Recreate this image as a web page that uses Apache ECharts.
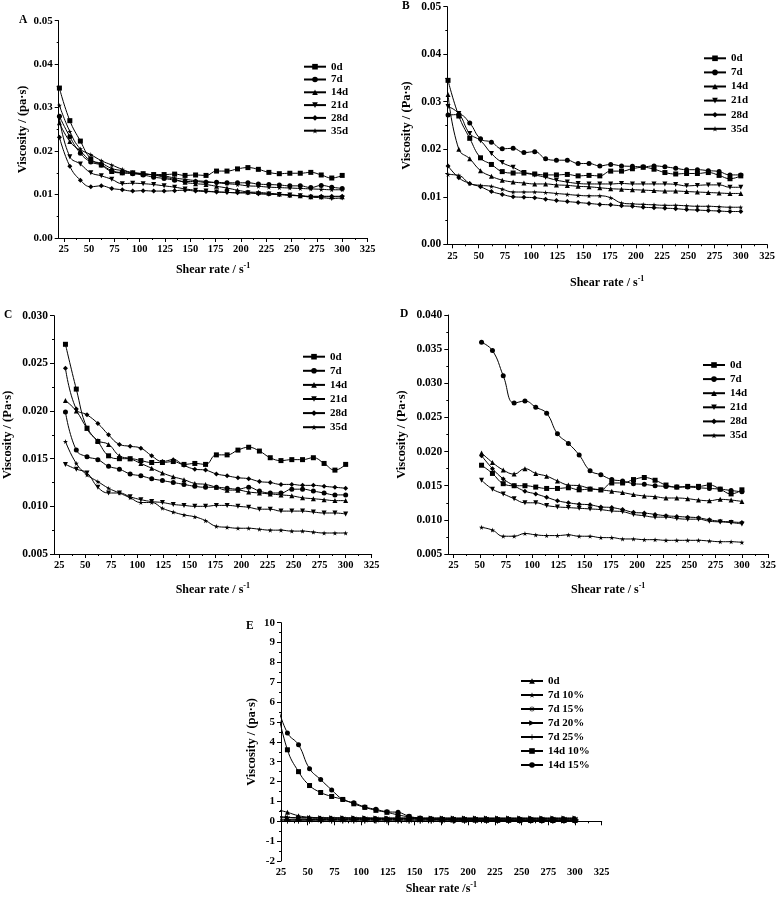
<!DOCTYPE html>
<html><head><meta charset="utf-8">
<script src="https://cdn.jsdelivr.net/npm/echarts@6/dist/echarts.min.js"></script>
<style>html,body{margin:0;padding:0;background:#fff}#c{width:779px;height:903px}</style>
</head><body><div id="c"></div><script>
// ---------------- data ----------------
const shearRate = [20.7, 31.0, 41.4, 51.7, 62.1, 72.4, 82.8, 93.1, 103.4, 113.8, 124.1, 134.5, 144.8, 155.2, 165.5, 175.9, 186.2, 196.6, 206.9, 217.2, 227.6, 237.9, 248.3, 258.6, 269.0, 279.3, 289.7, 300.0];
const xTickLabels = [25, 50, 75, 100, 125, 150, 175, 200, 225, 250, 275, 300, 325];
const xMinorTicks = [37.5, 62.5, 87.5, 112.5, 137.5, 162.5, 187.5, 212.5, 237.5, 262.5, 287.5, 312.5];
const namesAD = ['0d', '7d', '14d', '21d', '28d', '35d'];
const namesE = ['0d ', '7d 10%', '7d 15%', '7d 20%', '7d 25%', '14d 10%', '14d 15%'];

const control0d = [0.0345, 0.0270, 0.0223, 0.0182, 0.0168, 0.0153, 0.0150, 0.0150, 0.0148, 0.0146, 0.0146, 0.0147, 0.0144, 0.0145, 0.0144, 0.0154, 0.0154, 0.0159, 0.0162, 0.0158, 0.0151, 0.0148, 0.0149, 0.0149, 0.0151, 0.0145, 0.0138, 0.0144];

const A7d  = [0.0280, 0.0233, 0.0195, 0.0175, 0.0168, 0.0155, 0.0150, 0.0148, 0.0145, 0.0140, 0.0137, 0.0133, 0.0130, 0.0130, 0.0128, 0.0128, 0.0127, 0.0127, 0.0127, 0.0124, 0.0123, 0.0122, 0.0120, 0.0120, 0.0116, 0.0121, 0.0117, 0.0114];
const A14d = [0.0265, 0.0222, 0.0200, 0.0178, 0.0172, 0.0160, 0.0155, 0.0150, 0.0147, 0.0145, 0.0140, 0.0135, 0.0128, 0.0125, 0.0123, 0.0119, 0.0115, 0.0110, 0.0106, 0.0105, 0.0103, 0.0101, 0.0099, 0.0097, 0.0095, 0.0095, 0.0095, 0.0095];
const A21d = [0.0275, 0.0187, 0.0170, 0.0150, 0.0143, 0.0135, 0.0125, 0.0126, 0.0125, 0.0123, 0.0120, 0.0117, 0.0113, 0.0110, 0.0108, 0.0106, 0.0105, 0.0104, 0.0104, 0.0102, 0.0101, 0.0100, 0.0099, 0.0097, 0.0094, 0.0093, 0.0091, 0.0092];
const A28d = [0.0232, 0.0165, 0.0133, 0.0118, 0.0120, 0.0114, 0.0111, 0.0108, 0.0109, 0.0108, 0.0108, 0.0109, 0.0110, 0.0108, 0.0107, 0.0106, 0.0105, 0.0104, 0.0104, 0.0102, 0.0101, 0.0100, 0.0098, 0.0097, 0.0096, 0.0096, 0.0096, 0.0096];
const A35d = [0.0305, 0.0245, 0.0205, 0.0192, 0.0178, 0.0168, 0.0158, 0.0150, 0.0148, 0.0145, 0.0143, 0.0138, 0.0135, 0.0132, 0.0130, 0.0127, 0.0125, 0.0123, 0.0120, 0.0119, 0.0117, 0.0116, 0.0115, 0.0114, 0.0113, 0.0112, 0.0111, 0.0111];

const B7d  = [0.0272, 0.0273, 0.0255, 0.0222, 0.0215, 0.0201, 0.0202, 0.0193, 0.0195, 0.0180, 0.0177, 0.0177, 0.0170, 0.0170, 0.0165, 0.0168, 0.0165, 0.0164, 0.0163, 0.0165, 0.0163, 0.0160, 0.0157, 0.0157, 0.0155, 0.0153, 0.0146, 0.0146];
const B14d = [0.0315, 0.0200, 0.0180, 0.0155, 0.0143, 0.0135, 0.0131, 0.0129, 0.0127, 0.0127, 0.0125, 0.0124, 0.0122, 0.0121, 0.0119, 0.0117, 0.0116, 0.0115, 0.0114, 0.0113, 0.0112, 0.0112, 0.0111, 0.0110, 0.0109, 0.0108, 0.0107, 0.0107];
const B21d = [0.0290, 0.0275, 0.0233, 0.0218, 0.0191, 0.0172, 0.0162, 0.0151, 0.0146, 0.0141, 0.0135, 0.0131, 0.0128, 0.0127, 0.0127, 0.0127, 0.0128, 0.0127, 0.0127, 0.0127, 0.0127, 0.0126, 0.0123, 0.0124, 0.0125, 0.0125, 0.0120, 0.0120];
const B28d = [0.0165, 0.0140, 0.0128, 0.0121, 0.0111, 0.0105, 0.0100, 0.0099, 0.0098, 0.0095, 0.0092, 0.0090, 0.0088, 0.0086, 0.0084, 0.0083, 0.0081, 0.0080, 0.0078, 0.0077, 0.0076, 0.0075, 0.0073, 0.0072, 0.0071, 0.0070, 0.0069, 0.0069];
const B35d = [0.0147, 0.0145, 0.0128, 0.0124, 0.0122, 0.0116, 0.0110, 0.0110, 0.0110, 0.0109, 0.0107, 0.0105, 0.0103, 0.0102, 0.0102, 0.0098, 0.0087, 0.0085, 0.0084, 0.0083, 0.0082, 0.0082, 0.0081, 0.0080, 0.0080, 0.0079, 0.0078, 0.0078];

const C0d  = [null, 0.0270, 0.0223, 0.0182, 0.0168, 0.0153, 0.0150, 0.0150, 0.0148, 0.0146, 0.0146, 0.0147, 0.0144, 0.0145, 0.0144, 0.0154, 0.0154, 0.0159, 0.0162, 0.0158, 0.0151, 0.0148, 0.0149, 0.0149, 0.0151, 0.0145, 0.0138, 0.0144];
const C7d  = [null, 0.0199, 0.0159, 0.0152, 0.0149, 0.0142, 0.0139, 0.0134, 0.0132, 0.0129, 0.0127, 0.0125, 0.0123, 0.0121, 0.0120, 0.0120, 0.0119, 0.0118, 0.0120, 0.0116, 0.0114, 0.0114, 0.0118, 0.0118, 0.0116, 0.0114, 0.0112, 0.0112];
const C14d = [null, 0.0211, 0.0200, 0.0182, 0.0169, 0.0165, 0.0153, 0.0150, 0.0145, 0.0140, 0.0135, 0.0131, 0.0128, 0.0124, 0.0123, 0.0120, 0.0117, 0.0117, 0.0115, 0.0114, 0.0113, 0.0112, 0.0111, 0.0109, 0.0108, 0.0107, 0.0106, 0.0106];
const C21d = [null, 0.0144, 0.0139, 0.0135, 0.0120, 0.0114, 0.0114, 0.0110, 0.0107, 0.0105, 0.0104, 0.0102, 0.0101, 0.0100, 0.0100, 0.0101, 0.0101, 0.0100, 0.0099, 0.0097, 0.0097, 0.0095, 0.0095, 0.0095, 0.0094, 0.0093, 0.0093, 0.0092];
const C28d = [null, 0.0245, 0.0202, 0.0196, 0.0187, 0.0175, 0.0165, 0.0163, 0.0161, 0.0153, 0.0147, 0.0149, 0.0143, 0.0139, 0.0138, 0.0134, 0.0132, 0.0130, 0.0129, 0.0126, 0.0125, 0.0123, 0.0123, 0.0122, 0.0122, 0.0121, 0.0120, 0.0119];
const C35d = [null, 0.0168, 0.0145, 0.0133, 0.0126, 0.0119, 0.0114, 0.0109, 0.0104, 0.0104, 0.0098, 0.0094, 0.0091, 0.0089, 0.0085, 0.0079, 0.0078, 0.0077, 0.0077, 0.0076, 0.0075, 0.0075, 0.0074, 0.0074, 0.0073, 0.0072, 0.0072, 0.0072];

const D0d  = [null, null, null, 0.0180, 0.0168, 0.0153, 0.0150, 0.0150, 0.0148, 0.0146, 0.0146, 0.0147, 0.0144, 0.0145, 0.0144, 0.0154, 0.0154, 0.0159, 0.0162, 0.0158, 0.0151, 0.0148, 0.0149, 0.0149, 0.0151, 0.0145, 0.0138, 0.0144];
const D7d  = [null, null, null, 0.0360, 0.0348, 0.0311, 0.0271, 0.0274, 0.0265, 0.0256, 0.0226, 0.0212, 0.0195, 0.0172, 0.0166, 0.0159, 0.0157, 0.0153, 0.0152, 0.0150, 0.0149, 0.0148, 0.0148, 0.0147, 0.0146, 0.0145, 0.0143, 0.0141];
const D14d = [null, null, null, 0.0198, 0.0184, 0.0173, 0.0167, 0.0175, 0.0168, 0.0164, 0.0157, 0.0151, 0.0150, 0.0146, 0.0144, 0.0142, 0.0140, 0.0137, 0.0135, 0.0134, 0.0132, 0.0132, 0.0131, 0.0129, 0.0128, 0.0130, 0.0129, 0.0127];
const D21d = [null, null, null, 0.0158, 0.0145, 0.0138, 0.0131, 0.0125, 0.0125, 0.0121, 0.0119, 0.0118, 0.0117, 0.0116, 0.0115, 0.0113, 0.0112, 0.0108, 0.0106, 0.0104, 0.0104, 0.0102, 0.0101, 0.0101, 0.0098, 0.0097, 0.0096, 0.0094];
const D28d = [null, null, null, 0.0194, 0.0175, 0.0160, 0.0150, 0.0142, 0.0138, 0.0133, 0.0128, 0.0125, 0.0123, 0.0122, 0.0119, 0.0118, 0.0115, 0.0111, 0.0110, 0.0108, 0.0106, 0.0105, 0.0104, 0.0103, 0.0100, 0.0098, 0.0097, 0.0096];
const D35d = [null, null, null, 0.0089, 0.0085, 0.0076, 0.0076, 0.0080, 0.0078, 0.0077, 0.0077, 0.0078, 0.0076, 0.0076, 0.0074, 0.0074, 0.0072, 0.0072, 0.0071, 0.0071, 0.0070, 0.0070, 0.0070, 0.0070, 0.0069, 0.0068, 0.0068, 0.0067];

const E0d    = [0.60, 0.45, 0.28, 0.20, 0.17, 0.16, 0.16, 0.15, 0.15, 0.15, 0.15, 0.15, 0.15, 0.15, 0.15, 0.15, 0.14, 0.14, 0.14, 0.14, 0.14, 0.14, 0.14, 0.14, 0.14, 0.14, 0.14, 0.14];
const E7d10  = [0.25, 0.20, 0.17, 0.16, 0.15, 0.15, 0.15, 0.15, 0.14, 0.14, 0.14, 0.14, 0.14, 0.13, 0.13, 0.13, 0.13, 0.13, 0.13, 0.13, 0.12, 0.12, 0.12, 0.12, 0.12, 0.12, 0.12, 0.12];
const E7d15  = [0.12, 0.10, 0.10, 0.09, 0.09, 0.09, 0.09, 0.09, 0.09, 0.09, 0.09, 0.09, 0.08, 0.08, 0.08, 0.08, 0.08, 0.08, 0.08, 0.08, 0.08, 0.08, 0.08, 0.08, 0.08, 0.08, 0.08, 0.08];
const E7d20  = [0.22, 0.19, 0.18, 0.18, 0.18, 0.18, 0.18, 0.18, 0.18, 0.17, 0.17, 0.17, 0.17, 0.17, 0.17, 0.17, 0.17, 0.17, 0.17, 0.17, 0.17, 0.17, 0.17, 0.17, 0.17, 0.17, 0.17, 0.17];
const E7d25  = [0.06, 0.05, 0.05, 0.05, 0.05, 0.05, 0.05, 0.05, 0.05, 0.05, 0.05, 0.05, 0.05, 0.05, 0.05, 0.05, 0.05, 0.05, 0.05, 0.05, 0.05, 0.05, 0.05, 0.05, 0.05, 0.05, 0.05, 0.05];
const E14d10 = [5.90, 3.60, 2.50, 1.80, 1.45, 1.25, 1.10, 0.88, 0.70, 0.55, 0.45, 0.32, 0.22, 0.14, 0.10, 0.08, 0.07, 0.06, 0.06, 0.05, 0.05, 0.05, 0.04, 0.04, 0.04, 0.04, 0.04, 0.04];
const E14d15 = [6.00, 4.45, 3.85, 2.65, 2.10, 1.58, 1.10, 0.93, 0.72, 0.60, 0.48, 0.45, 0.25, 0.16, 0.12, 0.10, 0.08, 0.07, 0.06, 0.06, 0.05, 0.05, 0.05, 0.05, 0.05, 0.05, 0.05, 0.05];

// ---------------- styling ----------------
const FONT = 'Liberation Serif';
const STAR = 'path://M50,0L61,35L98,35L68,57L79,91L50,70L21,91L32,57L2,35L39,35Z';
const ASTER = 'path://M4.4,0L5.6,0L5.6,10L4.4,10Z M0,4.4L10,4.4L10,5.6L0,5.6Z M0.8,1.6L1.6,0.8L9.2,8.4L8.4,9.2Z M8.4,0.8L9.2,1.6L1.6,9.2L0.8,8.4Z';
const PLUS = 'path://M4.4,0L5.6,0L5.6,10L4.4,10Z M0,4.4L10,4.4L10,5.6L0,5.6Z';
const RTRI = 'path://M0,0L10,5L0,10Z';
const symAD = [['rect', 0], ['circle', 0], ['triangle', 0], ['triangle', 180], ['diamond', 0], [STAR, 0]];
const symE = [['triangle', 0], [STAR, 0], [ASTER, 0], [RTRI, 0], [PLUS, 0], ['rect', 0], ['circle', 0]];

const grids = [
  {left: 58.7, top: 20.7, width: 308.8, height: 217.3},
  {left: 447.3, top: 6.7, width: 319.7, height: 237.6},
  {left: 50, top: 315.7, width: 321.7, height: 238.3},
  {left: 448.3, top: 315, width: 321.2, height: 239},
  {left: 281, top: 622.7, width: 320.7, height: 238.3}
];

const labelStyle = (fs) => ({fontFamily: FONT, fontWeight: 'bold', fontSize: fs, color: '#000'});
const axisLineStyle = {show: true, lineStyle: {color: '#000', width: 1}};

const xAxes = [], yAxes = [];
const xName = (txt) => txt + '{sup|-1}';
const xNameStyle = {fontFamily: FONT, fontWeight: 'bold', fontSize: 12, color: '#000', lineHeight: 16,
  rich: {sup: {fontFamily: FONT, fontWeight: 'bold', fontSize: 8, verticalAlign: 'top', lineHeight: 16, color: '#000'}}};
const xNameGaps = [24, 31, 28, 28];

for (let g = 0; g < 4; g++) {
  xAxes.push({gridIndex: g, type: 'value', min: 20, max: 325, position: 'bottom',
    axisLine: axisLineStyle, splitLine: {show: false},
    axisTick: {show: true, customValues: xTickLabels, length: 4, lineStyle: {color: '#000'}},
    axisLabel: {customValues: xTickLabels, margin: 6, ...labelStyle(10.5)},
    name: xName('Shear rate / s'), nameLocation: 'middle', nameGap: xNameGaps[g], nameTextStyle: xNameStyle});
  xAxes.push({gridIndex: g, type: 'value', min: 20, max: 325, position: 'bottom',
    axisLine: {show: false}, splitLine: {show: false},
    axisTick: {show: true, customValues: xMinorTicks, length: 2, lineStyle: {color: '#000'}},
    axisLabel: {show: false}});
}
xAxes.push({gridIndex: 4, type: 'value', min: 25, max: 325, interval: 25, position: 'bottom',
  axisLine: axisLineStyle, splitLine: {show: false},
  axisTick: {show: true, length: 4, lineStyle: {color: '#000'}},
  minorTick: {show: true, splitNumber: 2, length: 2, lineStyle: {color: '#000'}},
  axisLabel: {margin: 6, ...labelStyle(10.5)},
  name: xName('Shear rate /s'), nameLocation: 'middle', nameGap: 20, nameTextStyle: xNameStyle});

const yDefs = [
  {min: 0, max: 0.05, interval: 0.01, dec: 2, name: 'Viscosity / (pa·s)', fs: 11, gap: 28},
  {min: 0, max: 0.05, interval: 0.01, dec: 2, name: 'Viscosity / (Pa·s)', fs: 11.5, gap: 34},
  {min: 0.005, max: 0.03, interval: 0.005, dec: 3, name: 'Viscosity / (Pa·s)', fs: 11.5, gap: 40},
  {min: 0.005, max: 0.04, interval: 0.005, dec: 3, name: 'Viscosity / (Pa·s)', fs: 11.5, gap: 40},
  {min: -2, max: 10, interval: 1, dec: 0, name: 'Viscosity / (pa·s)', fs: 11, gap: 23}
];
yDefs.forEach((d, g) => {
  yAxes.push({gridIndex: g, type: 'value', min: d.min, max: d.max, interval: d.interval,
    axisLine: axisLineStyle, splitLine: {show: false},
    axisTick: {show: true, length: 4, lineStyle: {color: '#000'}},
    minorTick: {show: true, splitNumber: 2, length: 2, lineStyle: {color: '#000'}},
    axisLabel: {margin: 6, formatter: v => v.toFixed(d.dec), ...labelStyle(d.fs)},
    name: d.name, nameLocation: 'middle', nameRotate: 90, nameGap: d.gap,
    nameTextStyle: {fontFamily: FONT, fontWeight: 'bold', fontSize: 12.5, color: '#000'}});
});

const series = [];
function addSeries(grid, xIdx, name, vals, sym) {
  const data = [];
  shearRate.forEach((x, i) => { if (vals[i] != null) data.push([x, vals[i]]); });
  const thin = (sym[0] === ASTER || sym[0] === PLUS);
  series.push({type: 'line', name, xAxisIndex: xIdx, yAxisIndex: grid, data,
    symbol: sym[0], symbolRotate: sym[1], symbolSize: thin ? 7 : 5, showAllSymbol: true,
    smooth: 0.45, clip: true, animation: false,
    lineStyle: {color: '#000', width: 1},
    itemStyle: {color: '#000', borderWidth: 0}});
}
const panels = [
  [control0d, A7d, A14d, A21d, A28d, A35d],
  [control0d, B7d, B14d, B21d, B28d, B35d],
  [C0d, C7d, C14d, C21d, C28d, C35d],
  [D0d, D7d, D14d, D21d, D28d, D35d]
];
panels.forEach((arrs, g) => arrs.forEach((a, k) => addSeries(g, g * 2, namesAD[k], a, symAD[k])));
[E0d, E7d10, E7d15, E7d20, E7d25, E14d10, E14d15].forEach((a, k) => addSeries(4, 8, namesE[k], a, symE[k]));

const legendBase = {orient: 'vertical', itemWidth: 22, itemHeight: 7, selectedMode: false, padding: 0,
  textStyle: {fontFamily: FONT, fontWeight: 'bold', fontSize: 11, color: '#000'}};
const legends = [
  {...legendBase, left: 303, top: 61.2, itemGap: 1.8, data: namesAD},
  {...legendBase, left: 703, top: 52.8, itemGap: 3.1, data: namesAD},
  {...legendBase, left: 302, top: 351.2, itemGap: 3.1, data: namesAD},
  {...legendBase, left: 702, top: 359.5, itemGap: 3.1, data: namesAD},
  {...legendBase, left: 520, top: 675.5, itemGap: 3.0, data: namesE}
];

const titleStyle = {fontFamily: FONT, fontWeight: 'bold', fontSize: 11.5, color: '#000'};
const titles = [
  {text: 'A', left: 19, top: 14}, {text: 'B', left: 402, top: 0},
  {text: 'C', left: 4, top: 309}, {text: 'D', left: 400, top: 308},
  {text: 'E', left: 246, top: 620}
].map(t => ({...t, padding: 0, textStyle: titleStyle}));

const chart = echarts.init(document.getElementById('c'), null, {renderer: 'canvas'});
chart.setOption({
  animation: false, backgroundColor: '#fff',
  title: titles, grid: grids, xAxis: xAxes, yAxis: yAxes, legend: legends, series
});
</script></body></html>
